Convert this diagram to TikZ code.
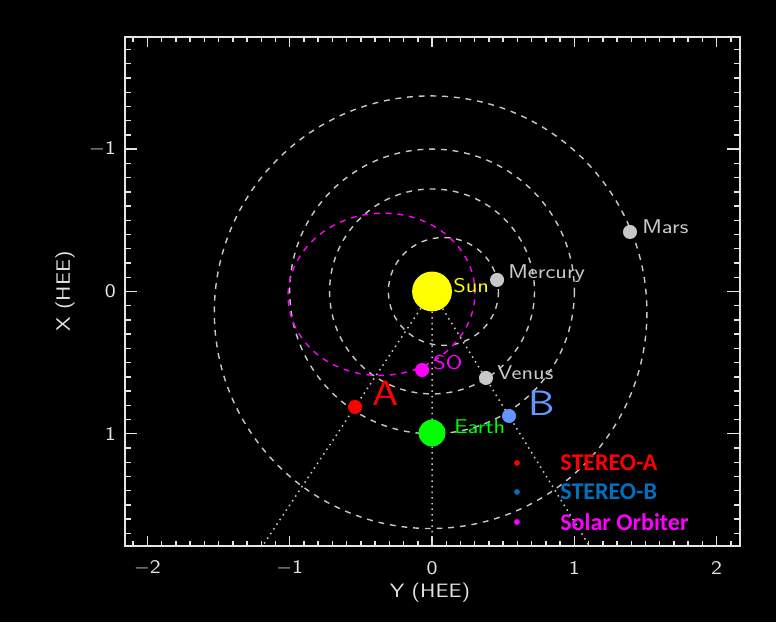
\documentclass[tikz,border=0pt]{standalone}
\usepackage{fontspec}
\newfontfamily\legendfont{Carlito}
\newfontfamily\idlfont{Latin Modern Sans}[FakeStretch=1.2]
\usepackage{tikz}
\usetikzlibrary{positioning}

\definecolor{orbitgray}{RGB}{200,200,200}
\definecolor{axiswhite}{RGB}{228,228,228}
\definecolor{sunyellow}{RGB}{255,255,0}
\definecolor{somagenta}{RGB}{255,0,255}
\definecolor{earthgreen}{RGB}{0,255,0}
\definecolor{stbblue}{RGB}{100,150,255}
\definecolor{legendblue}{RGB}{0,112,192}

\begin{document}
\begin{tikzpicture}[x=4.269cm,y=-4.269cm,
    orbit/.style={draw=orbitgray,line width=1.2pt,dash pattern=on 5pt off 5pt},
    sight/.style={draw=orbitgray,line width=1.3pt,dash pattern=on 1.3pt off 3.5pt},
    body/.style={circle,inner sep=0pt,minimum size=12pt},
    name label/.style={font=\idlfont\fontsize{17}{20}\selectfont,anchor=west,inner sep=0pt},
    craft label/.style={font=\idlfont\fontsize{30}{34}\selectfont,inner sep=0pt},
    tick label/.style={font=\idlfont\fontsize{16.5}{19}\selectfont,text=axiswhite,inner sep=0pt},
    legend dot/.style={circle,inner sep=0pt,minimum size=5pt},
    legend text/.style={font=\legendfont\bfseries\fontsize{20.5}{24}\selectfont,anchor=west,inner sep=0pt}]

% background and frame
\fill[black] (-3.036,-2.048) rectangle (2.417,2.323);
\useasboundingbox (-3.036,-2.048) rectangle (2.417,2.323);
\draw[axiswhite,line width=1.7pt] (-2.157,-1.788) rectangle (2.162,1.788);

% ticks
\begin{scope}[axiswhite,line width=1.2pt]
\foreach \t in {-21,...,21} {
  \draw (\t/10,1.788) -- ++(0,-0.036);
  \draw (\t/10,-1.788) -- ++(0,0.036);
}
\foreach \t in {-2,...,2} {
  \draw (\t,1.788) -- ++(0,-0.072);
  \draw (\t,-1.788) -- ++(0,0.072);
}
\foreach \t in {-17,...,17} {
  \draw (-2.157,\t/10) -- ++(0.043,0);
  \draw (2.162,\t/10) -- ++(-0.043,0);
}
\foreach \t in {-1,0,1} {
  \draw (-2.157,\t) -- ++(0.086,0);
  \draw (2.162,\t) -- ++(-0.086,0);
}
\end{scope}

\node[tick label] (ym2) at (-2,1.943) {$-$2};
\node[tick label] (ym1) at (-1,1.943) {$-$1};
\node[tick label] (y0) at (0,1.943) {0};
\node[tick label] (yp1) at (1,1.943) {1};
\node[tick label] (yp2) at (2,1.943) {2};
\node[tick label,anchor=east] (xm1) at (-2.221,-1) {$-$1};
\node[tick label,anchor=east] (x0) at (-2.221,0) {0};
\node[tick label,anchor=east] (xp1) at (-2.221,1) {1};
\node[tick label] (ytitle) at (-0.014,2.119) {Y (HEE)};
\node[tick label,rotate=90] (xtitle) at (-2.579,0) {X (HEE)};

% orbits
\draw[orbit] (0.08,0) ellipse [x radius=0.387,y radius=0.379];
\draw[orbit] (0,0) circle [radius=0.72];
\draw[orbit] (0,0) circle [radius=1.0];
\draw[orbit] (-0.01,0.146) circle [radius=1.52];
\draw[orbit,draw=somagenta,rotate around={4:(-0.355,0.02)}] (-0.355,0.02) ellipse [x radius=0.657,y radius=0.57];

% lines of sight
\coordinate (endA) at (-1.191,1.788);
\coordinate (endE) at (0,1.788);
\coordinate (endB) at (1.105,1.788);

\node[body,fill=sunyellow,minimum size=34pt] (sun) at (0,0) {};
\path[sight] (sun) -- (endA)
             (sun) -- (endE)
             (sun) -- (endB);

% bodies
\node[body,fill=orbitgray] (mercury) at (0.457,-0.081) {};
\node[body,fill=orbitgray] (venus) at (0.379,0.608) {};
\node[body,fill=orbitgray] (mars) at (1.391,-0.418) {};
\node[body,fill=earthgreen,minimum size=23pt] (earth) at (0,0.995) {};
\node[body,fill=somagenta] (so) at (-0.070,0.552) {};
\node[body,fill=red] (sta) at (-0.541,0.812) {};
\node[body,fill=stbblue] (stb) at (0.541,0.875) {};

\node[name label,text=sunyellow] (sunlabel) at (0.148,-0.039) {Sun};
\node[name label,text=orbitgray] (mercurylabel) at (0.534,-0.123) {Mercury};
\node[name label,text=orbitgray] (marslabel) at (1.476,-0.453) {Mars};
\node[name label,text=orbitgray] (venuslabel) at (0.457,0.573) {Venus};
\node[name label,text=somagenta] (solabel) at (0.007,0.502) {SO};
\node[name label,text=earthgreen] (earthlabel) at (0.155,0.952) {Earth};
\node[craft label,text=red] (stalabel) at (-0.323,0.713) {A};
\node[craft label,text=stbblue] (stblabel) at (0.773,0.784) {B};

% legend
\node[legend dot,fill=red] (dotA) at (0.597,1.205) {};
\node[legend dot,fill=legendblue] (dotB) at (0.597,1.409) {};
\node[legend dot,fill=somagenta] (dotSO) at (0.597,1.620) {};
\node[legend text,text=red] (legA) at (0.900,1.205) {STEREO-A};
\node[legend text,text=legendblue] (legB) at (0.900,1.409) {STEREO-B};
\node[legend text,text=somagenta] (legSO) at (0.900,1.620) {Solar Orbiter};
\end{tikzpicture}
\end{document}
